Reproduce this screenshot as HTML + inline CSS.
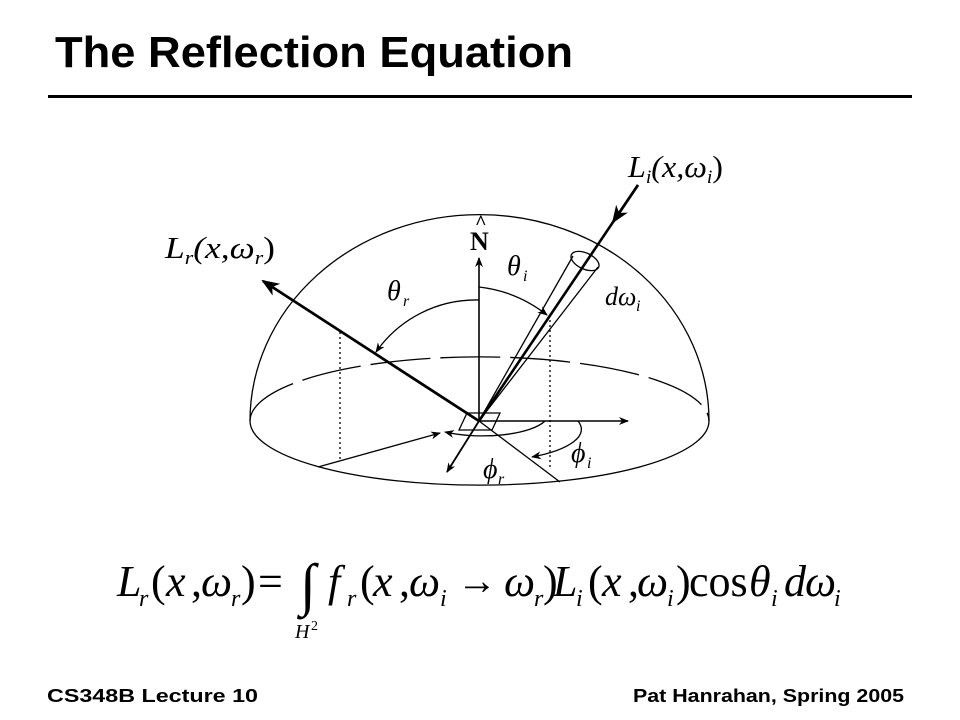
<!DOCTYPE html>
<html><head><meta charset="utf-8"><style>
html,body{margin:0;padding:0;background:#fff;}
svg{display:block;}
.t{font-family:"Liberation Serif",serif;font-style:italic;fill:#000;}
.n{font-family:"Liberation Serif",serif;fill:#000;}
</style></head><body>
<svg width="960" height="720" viewBox="0 0 960 720" xmlns="http://www.w3.org/2000/svg">
<defs>
<marker id="ah" markerWidth="10" markerHeight="8" refX="9" refY="4" orient="auto" markerUnits="userSpaceOnUse"><path d="M0,0 L10,4 L0,8 L3,4 Z" fill="#000"/></marker>
<marker id="ahb" markerWidth="18" markerHeight="14" refX="16" refY="7" orient="auto" markerUnits="userSpaceOnUse"><path d="M0,0 L18,7 L0,14 L5,7 Z" fill="#000"/></marker>
</defs>
<text x="55" y="67" font-family="Liberation Sans, sans-serif" font-weight="bold" font-size="44" textLength="518" lengthAdjust="spacingAndGlyphs">The Reflection Equation</text>
<rect x="48" y="95" width="864" height="3" fill="#000"/>

<g fill="none" stroke="#000" stroke-width="1.3">
<path d="M250,421 A229,206 0 0 1 709,421"/>
<path d="M250,421 A229,64 0 0 0 709,421"/>
<path d="M250,421 A229,64 0 0 1 709,421" stroke-dasharray="60,10"/>
<line x1="340" y1="332" x2="340" y2="460" stroke-dasharray="2,3"/>
<line x1="550" y1="320" x2="550" y2="467" stroke-dasharray="2,3"/>
<line x1="479" y1="421" x2="479" y2="258" stroke-width="1.6" marker-end="url(#ah)"/>
<line x1="479" y1="421" x2="628" y2="421" stroke-width="1.6" marker-end="url(#ah)"/>
<line x1="479" y1="421" x2="447" y2="472" stroke-width="1.8" marker-end="url(#ah)"/>
<line x1="479" y1="421" x2="560" y2="482"/>
<line x1="318" y1="467" x2="440" y2="433" marker-end="url(#ah)"/>
<path d="M459,430 L467,413 L500,413 L492,430 Z"/>
<path d="M545,421 A66,22 0 0 1 445,432" marker-end="url(#ah)"/>
<path d="M578,421 A99,32 0 0 1 532,457" marker-end="url(#ah)"/>
<path d="M479,300 A122,122 0 0 0 376,352" marker-end="url(#ah)"/>
<path d="M479,287 A134,134 0 0 1 547,315" marker-end="url(#ah)"/>
<line x1="479" y1="421" x2="573" y2="256"/>
<line x1="479" y1="421" x2="598" y2="267"/>
<ellipse cx="585" cy="261" rx="15" ry="8" transform="rotate(25 585 261)"/>
<line x1="479" y1="421" x2="263" y2="281" stroke-width="2.8" marker-end="url(#ahb)"/>
<line x1="638" y1="185" x2="479" y2="421" stroke-width="2.6"/>
<line x1="638" y1="185" x2="613" y2="222" stroke-width="2.6" marker-end="url(#ahb)"/>
</g>

<text x="470" y="250" class="n" font-size="26" font-weight="bold">N</text>
<text x="475" y="229" class="n" font-size="20" font-weight="bold">^</text>
<text x="507" y="275" class="t" font-size="28">θ</text><text x="523" y="281" class="t" font-size="16">i</text>
<text x="387" y="300" class="t" font-size="28">θ</text><text x="403" y="306" class="t" font-size="16">r</text>
<text x="605" y="305" class="t" font-size="26">dω</text><text x="636" y="311" class="t" font-size="16">i</text>
<text x="571" y="462" class="t" font-size="28">ϕ</text><text x="587" y="468" class="t" font-size="16">i</text>
<text x="483" y="478" class="t" font-size="28">ϕ</text><text x="498" y="484" class="t" font-size="16">r</text>
<text x="165" y="258" class="t" font-size="31" textLength="110" lengthAdjust="spacingAndGlyphs">L<tspan font-size="19" dy="6">r</tspan><tspan dy="-6">(x,ω</tspan><tspan font-size="19" dy="6">r</tspan><tspan dy="-6" font-style="normal">)</tspan></text>
<text x="628" y="177" class="t" font-size="31" textLength="95" lengthAdjust="spacingAndGlyphs">L<tspan font-size="19" dy="6">i</tspan><tspan dy="-6">(x,ω</tspan><tspan font-size="19" dy="6">i</tspan><tspan dy="-6" font-style="normal">)</tspan></text>

<g font-size="44">
<text x="117" y="596" class="t">L</text><text x="139" y="606" class="t" font-size="24">r</text>
<text x="151" y="596" class="n">(</text><text x="166" y="596" class="t">x</text><text x="191" y="596" class="n">,</text><text x="201" y="596" class="t">ω</text><text x="231" y="606" class="t" font-size="24">r</text><text x="241" y="596" class="n">)</text>
<text x="258" y="596" class="n">=</text>
<text x="300" y="604" class="n" font-size="58">∫</text>
<text x="295" y="638" class="t" font-size="20">H</text><text x="311" y="630" class="n" font-size="14">2</text>
<text x="328" y="596" class="t">f</text><text x="347" y="606" class="t" font-size="24">r</text>
<text x="360" y="596" class="n">(</text><text x="373" y="596" class="t">x</text><text x="399" y="596" class="n">,</text><text x="409" y="596" class="t">ω</text><text x="440" y="606" class="t" font-size="24">i</text>
<text x="457" y="594" class="n" font-size="40">→</text>
<text x="504" y="596" class="t">ω</text><text x="534" y="606" class="t" font-size="24">r</text><text x="543" y="596" class="n">)</text>
<text x="553" y="596" class="t">L</text><text x="576" y="606" class="t" font-size="24">i</text>
<text x="588" y="596" class="n">(</text><text x="602" y="596" class="t">x</text><text x="628" y="596" class="n">,</text><text x="637" y="596" class="t">ω</text><text x="667" y="606" class="t" font-size="24">i</text><text x="676" y="596" class="n">)</text>
<text x="689" y="596" class="n">cos</text><text x="749" y="596" class="t">θ</text><text x="771" y="606" class="t" font-size="24">i</text>
<text x="784" y="596" class="t">d</text><text x="805" y="596" class="t">ω</text><text x="834" y="606" class="t" font-size="24">i</text>
</g>

<text x="47" y="702" font-family="Liberation Sans, sans-serif" font-weight="bold" font-size="18" textLength="211" lengthAdjust="spacingAndGlyphs">CS348B Lecture 10</text>
<text x="633" y="702" font-family="Liberation Sans, sans-serif" font-weight="bold" font-size="18" textLength="271" lengthAdjust="spacingAndGlyphs">Pat Hanrahan, Spring 2005</text>
</svg>
</body></html>
